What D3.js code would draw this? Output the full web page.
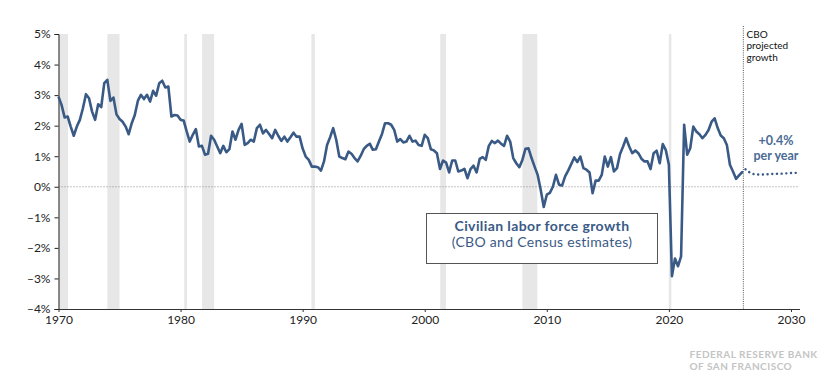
<!DOCTYPE html>
<html>
<head>
<meta charset="utf-8">
<script src="https://cdn.jsdelivr.net/npm/d3@7"></script>
<style>
body { margin: 0; background: #fff; }
svg text { font-family: Lato, "Open Sans", sans-serif; }
</style>
</head>
<body>
<script>
// Quarterly civilian labor force growth, % year over year, starting 1970 Q1
var startYear = 1970;
var growth = [
	2.95, 2.68, 2.27, 2.30,   // 1970
	1.97, 1.67, 1.97, 2.19,
	2.57, 3.03, 2.90, 2.46,
	2.19, 2.70, 2.61, 3.39,
	3.50, 2.81, 2.92, 2.37,
	2.22, 2.13, 1.97, 1.72,
	2.08, 2.35, 2.81, 3.01,
	2.87, 3.01, 2.79, 3.14,
	2.98, 3.39, 3.47, 3.25,
	3.28, 2.30, 2.35, 2.33,
	2.19, 2.17, 1.81, 1.48,   // 1980
	1.70, 1.89, 1.32, 1.34,
	1.05, 1.08, 1.67, 1.54,
	1.32, 1.10, 1.34, 1.13,
	1.23, 1.81, 1.54, 1.86,
	2.06, 1.37, 1.43, 1.54,
	1.48, 1.92, 2.03, 1.75,
	1.86, 1.73, 1.59, 1.86,
	1.67, 1.50, 1.64, 1.48,
	1.62, 1.77, 1.64, 1.64,
	1.25, 0.99, 0.88, 0.66,   // 1990
	0.66, 0.64, 0.53, 0.83,
	1.37, 1.62, 1.92, 1.54,
	0.99, 0.94, 0.90, 1.15,
	1.08, 0.94, 0.83, 1.01,
	1.23, 1.34, 1.41, 1.21,
	1.23, 1.48, 1.73, 2.08,
	2.08, 2.03, 1.86, 1.48,
	1.56, 1.45, 1.48, 1.67,
	1.48, 1.51, 1.37, 1.34,
	1.70, 1.59, 1.23, 1.19,   // 2000
	1.10, 0.58, 0.86, 0.79,
	0.47, 0.86, 0.86, 0.50,
	0.53, 0.59, 0.28, 0.58,
	0.69, 0.47, 0.91, 0.97,
	0.88, 1.34, 1.50, 1.43,
	1.51, 1.41, 1.34, 1.67,
	1.48, 0.94, 0.77, 0.64,
	0.88, 1.24, 1.26, 0.94,
	0.66, 0.39, -0.10, -0.66,
	-0.26, -0.20, 0.00, 0.39, // 2010
	0.07, 0.04, 0.34, 0.53,
	0.74, 0.96, 0.81, 0.99,
	0.61, 0.56, 0.47, -0.21,
	0.20, 0.20, 0.39, 0.99,
	0.66, 0.97, 0.50, 0.61,
	1.07, 1.32, 1.59, 1.32,
	1.10, 1.19, 1.10, 0.92,
	0.83, 0.83, 0.58, 1.10,
	1.18, 0.77, 1.40, 1.20,
	0.72, -2.93, -2.35, -2.60, // 2020
	-2.28, 2.03, 1.05, 1.26,
	1.97, 1.81, 1.72, 1.59,
	1.70, 1.86, 2.13, 2.24,
	1.92, 1.68, 1.59, 1.37,
	0.72, 0.50, 0.26, 0.37,
	0.48                      // 2026 Q1
];

// CBO projection, quarterly from 2026 Q1
var projStart = 2026;
var projection = [0.48, 0.58, 0.50, 0.44, 0.41, 0.40, 0.40, 0.40, 0.41, 0.41,
	0.42, 0.42, 0.43, 0.43, 0.44, 0.44, 0.45, 0.45, 0.46];

// Recessions (start, end)
var recessions = [[1970.0, 1970.78], [1974.0, 1975.0], [1980.3, 1980.53], [1981.76, 1982.75],
	[1990.72, 1991.0], [2001.27, 2001.74], [2008.0, 2009.22], [2020.0, 2020.2]];

var yTicks = [-4, -3, -2, -1, 0, 1, 2, 3, 4, 5];
var xTicks = [1970, 1980, 1990, 2000, 2010, 2020, 2030];
var projectionLine = 2026.1;

var width = 826, height = 390;
var lineColor = "#3a5a86";

var svg = d3.select("body").append("svg").attr("width", width).attr("height", height);

var x = d3.scaleLinear().domain([1970, 2030.7]).range([58.5, 799.5]);
var y = d3.scaleLinear().domain([-4, 5]).range([309, 34]);

//Recession bands.
svg.selectAll("rect.rec").data(recessions).enter().append("rect")
	.attr("class", "rec")
	.attr("x", function(d) { return x(d[0]); })
	.attr("width", function(d) { return x(d[1]) - x(d[0]); })
	.attr("y", y(5))
	.attr("height", y(-4) - y(5))
	.style("fill", "#e7e7e7");

//Zero line.
svg.append("line")
	.attr("x1", x(1970)).attr("x2", x(2030.7))
	.attr("y1", y(0)).attr("y2", y(0))
	.style("stroke", "#8a8a8a").style("stroke-width", 1).style("stroke-dasharray", "1,2");

//Projection divider.
svg.append("line")
	.attr("x1", x(projectionLine)).attr("x2", x(projectionLine))
	.attr("y1", 26).attr("y2", y(-4))
	.style("stroke", "#555").style("stroke-width", 1).style("stroke-dasharray", "1,1.2");

//Axes.
var yAxis = svg.append("g").attr("transform", "translate(" + x(1970) + ",0)")
	.call(d3.axisLeft(y).tickValues(yTicks).tickSize(4).tickPadding(4)
		.tickFormat(function(d) { return (d < 0 ? "\u2013" + (-d) : d) + "%"; }));
yAxis.select(".domain").style("stroke", "#222");
yAxis.selectAll(".tick line").style("stroke", "#222");
yAxis.selectAll("text").style("font-size", "12px").style("fill", "#222");

var xAxis = svg.append("g").attr("transform", "translate(0," + y(-4) + ")")
	.call(d3.axisBottom(x).tickValues(xTicks).tickSize(3).tickPadding(3).tickSizeOuter(0)
		.tickFormat(d3.format("d")));
xAxis.select(".domain").style("stroke", "#333");
xAxis.selectAll(".tick line").style("stroke", "#333");
xAxis.selectAll("text").style("font-size", "12px").style("fill", "#222");

//Historical line and projection.
var histLine = d3.line()
	.x(function(d, i) { return x(startYear + i / 4); })
	.y(function(d) { return y(d); });

var projLine = d3.line()
	.x(function(d, i) { return x(projStart + i / 4); })
	.y(function(d) { return y(d); });

svg.append("path").datum(growth)
	.attr("d", histLine)
	.style("fill", "none").style("stroke", lineColor)
	.style("stroke-width", 2.6).style("stroke-linejoin", "round");

svg.append("path").datum(projection)
	.attr("d", projLine)
	.style("fill", "none").style("stroke", lineColor)
	.style("stroke-width", 2.4).style("stroke-linecap", "round")
	.style("stroke-dasharray", "0.1,4.6");

//Annotations.
var cbo = svg.append("text").attr("x", 746.5).attr("y", 37.5)
	.style("font-size", "10px").style("fill", "#111");
["CBO", "projected", "growth"].forEach(function(t, i) {
	cbo.append("tspan").attr("x", 746.5).attr("dy", i == 0 ? 0 : 11.5).text(t);
});

var rate = svg.append("text").attr("text-anchor", "middle")
	.style("font-size", "12.5px").style("font-weight", "bold").style("fill", "#4a6b96");
rate.append("tspan").attr("x", 776).attr("y", 145).text("+0.4%");
rate.append("tspan").attr("x", 776).attr("y", 159.5).text("per year");

//Label box.
svg.append("rect")
	.attr("x", 426.5).attr("y", 213.5).attr("width", 231).attr("height", 50)
	.style("fill", "#fff").style("stroke", "#555").style("stroke-width", 1);
svg.append("text").attr("x", 542).attr("y", 231).attr("text-anchor", "middle")
	.style("font-size", "14px").style("font-weight", "bold").style("fill", lineColor)
	.style("letter-spacing", "0.4px")
	.text("Civilian labor force growth");
svg.append("text").attr("x", 542).attr("y", 247).attr("text-anchor", "middle")
	.style("font-size", "14px").style("fill", lineColor)
	.style("letter-spacing", "0.3px")
	.text("(CBO and Census estimates)");

//Source mark.
var logo = svg.append("text").style("font-size", "10px").style("font-weight", "bold")
	.style("fill", "#c4c4c4").style("letter-spacing", "0.5px");
logo.append("tspan").attr("x", 689.5).attr("y", 357.5).text("FEDERAL RESERVE BANK");
logo.append("tspan").attr("x", 689.5).attr("y", 369.5).text("OF SAN FRANCISCO");
</script>
</body>
</html>
